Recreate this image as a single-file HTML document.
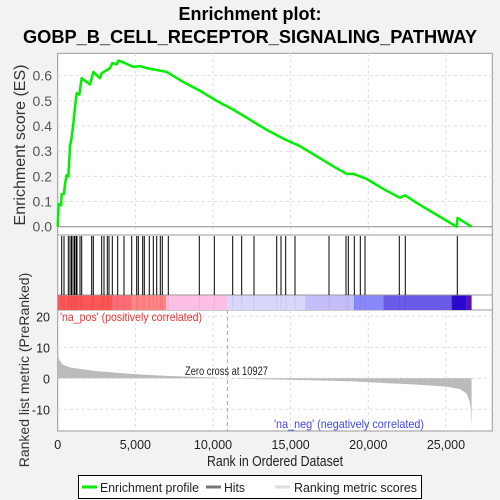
<!DOCTYPE html>
<html><head><meta charset="utf-8"><style>
body{margin:0;background:#f2f2f2;}
svg{display:block;font-family:"Liberation Sans",sans-serif;}
</style></head><body>
<svg id="c" width="500" height="500" viewBox="0 0 500 500">
<rect x="0" y="0" width="500" height="500" fill="#f2f2f2"/>
<text x="250" y="20" text-anchor="middle" font-size="18" font-weight="bold">Enrichment plot:</text>
<text x="250" y="43" text-anchor="middle" font-size="18" font-weight="bold" textLength="454" lengthAdjust="spacingAndGlyphs">GOBP_B_CELL_RECEPTOR_SIGNALING_PATHWAY</text>
<g id="g"></g>
</svg>
<script>
const esRanks=[0,64,215,258,408,472,580,687,794,901,1009,1116,1223,1395,1545,2082,2296,2725,2833,3369,3519,3798,3906,4335,4871,5300,5730,6588,7017,8090,9163,10236,11309,12382,13455,14528,15601,16674,17747,18605,19034,19893,20966,22039,22361,23112,24185,25687,25751,26652];
const esValues=[0,0.09,0.085,0.13,0.13,0.17,0.205,0.2,0.32,0.355,0.41,0.475,0.53,0.525,0.59,0.565,0.615,0.59,0.61,0.63,0.65,0.645,0.66,0.65,0.635,0.638,0.63,0.62,0.615,0.575,0.54,0.5,0.465,0.425,0.385,0.35,0.32,0.28,0.24,0.21,0.21,0.19,0.15,0.115,0.125,0.095,0.055,0.0,0.035,0.0];
const hitRanks=[258,406,683,792,889,985,1082,1178,1243,1436,1545,2189,2292,2833,2981,3194,3303,3516,3863,4269,4765,5087,5190,5473,5576,5898,6156,6375,6607,6735,7122,9118,10084,11268,11848,12640,14102,14379,14681,15280,17469,18564,18712,19099,19485,19788,21996,22382,25731];
const metricRanks=[0,100,300,800,1500,2500,4000,5500,7000,9000,10927,13000,16000,19000,21000,23000,25000,25900,26300,26500,26600,26650];
const metricValues=[8,6,4.5,3.5,3,2.3,1.7,1.2,0.8,0.4,0,-0.3,-0.6,-1,-1.5,-2,-2.7,-3.5,-4.8,-7,-10,-16];
const colorStops=[0,3541,4764,6974,10923,15923,19077,20966,25365,26330,26652];
const colorFills=['#ff5656','#ff6a78','#ff8484','#ffbfe4','#d8d8fa','#c4befa','#8888fa','#6a5ae8','#2a0ad0','#5a10b0'];
const xTicks=[0,5000,10000,15000,20000,25000];
const xTickLabels=['0','5,000','10,000','15,000','20,000','25,000'];
const esTicks=[0,0.1,0.2,0.3,0.4,0.5,0.6];
const esTickLabels=['0.0','0.1','0.2','0.3','0.4','0.5','0.6'];
const mTicks=[-10,0,10,20];
const mTickLabels=['-10','0','10','20'];
const zeroCross=10927;

const L=57.7,R=492.3;
const X=r=>L+r*0.01553;
const YE=v=>226.7-v*251.7;
const YM=v=>378.3-v*3.1;
const g=document.getElementById('g');
const NS='http://www.w3.org/2000/svg';
function mk(t,a,p){const e=document.createElementNS(NS,t);for(const k in a)e.setAttribute(k,a[k]);(p||g).appendChild(e);return e;}

let e;
e=mk('rect',{x:L,y:53.3,width:R-L,height:181.7,fill:'#fff',stroke:'#999'});


e=mk('rect',{x:L,y:235,width:R-L,height:75,fill:'#fff',stroke:'#999'});


e=mk('rect',{x:L,y:310,width:R-L,height:121,fill:'#fff',stroke:'#999'});



xTicks.forEach((t,i)=>{if(i==0)return;
 mk('line',{x1:X(t),x2:X(t),y1:53.3,y2:235,stroke:'#ddd','stroke-dasharray':'3,3'});
 mk('line',{x1:X(t),x2:X(t),y1:310,y2:431,stroke:'#ddd','stroke-dasharray':'3,3'});
});
esTicks.forEach((t,i)=>{
 if(i>0) mk('line',{x1:L,x2:R,y1:YE(t),y2:YE(t),stroke:'#ddd','stroke-dasharray':'3,3'});
 e=mk('text',{x:52,y:YE(t)+5,'text-anchor':'end','font-size':14,fill:'#555'});
 e.textContent=esTickLabels[i];
 
 
});
mk('line',{x1:L,x2:R,y1:YE(0),y2:YE(0),stroke:'#888'});
mTicks.forEach((t,i)=>{
 mk('line',{x1:L,x2:R,y1:YM(t),y2:YM(t),stroke:'#ddd','stroke-dasharray':'3,3'});
 e=mk('text',{x:50,y:YM(t)+5,'text-anchor':'end','font-size':12.5,fill:'#222'});
 e.textContent=mTickLabels[i];
 
 
});

for(let i=0;i<colorFills.length;i++){
 e=mk('rect',{x:X(colorStops[i]),y:295,width:X(colorStops[i+1])-X(colorStops[i]),height:15,fill:colorFills[i]});
 
 
}
mk('line',{x1:L,x2:R,y1:295,y2:295,stroke:'#999'});

hitRanks.forEach(r=>{
 e=mk('line',{x1:X(r),x2:X(r),y1:236,y2:295,stroke:'#000','stroke-width':1});
 
 
 mk('line',{x1:X(r),x2:X(r),y1:295,y2:310,stroke:'#000','stroke-opacity':0.07,'stroke-width':1});
});

let d='M'+X(metricRanks[0])+','+YM(0);
metricRanks.forEach((r,i)=>{d+=' L'+X(r).toFixed(2)+','+YM(metricValues[i]).toFixed(2);});
d+=' L'+X(metricRanks[metricRanks.length-1])+','+YM(0)+' Z';
e=mk('path',{d:d,fill:'#bbb',stroke:'none'});


mk('line',{x1:X(zeroCross),x2:X(zeroCross),y1:310,y2:431,stroke:'#aaa','stroke-dasharray':'4,3'});

let p='';
esRanks.forEach((r,i)=>{p+=(i?' L':'M')+X(r).toFixed(2)+','+YE(esValues[i]).toFixed(2);});
e=mk('path',{d:p,fill:'none',stroke:'#00ee00','stroke-width':2.5,'stroke-linejoin':'round'});



xTicks.forEach((t,i)=>{
 e=mk('text',{x:X(t),y:449,'text-anchor':'middle','font-size':12.5,fill:'#222'});
 e.textContent=xTickLabels[i];
 
 
});
function txt(s,a,name){const t=mk('text',a);t.textContent=s;return t;}
txt("'na_pos' (positively correlated)",{x:60,y:321,'font-size':12,fill:'#e33',textLength:142,lengthAdjust:'spacingAndGlyphs'},'na-pos-label');
txt("'na_neg' (negatively correlated)",{x:274,y:428,'font-size':12,fill:'#44e',textLength:150,lengthAdjust:'spacingAndGlyphs'},'na-neg-label');
txt("Zero cross at 10927",{x:185,y:375,'font-size':11.5,fill:'#222',textLength:83,lengthAdjust:'spacingAndGlyphs'},'zero-cross-label');
txt("Rank in Ordered Dataset",{x:275,y:466,'text-anchor':'middle','font-size':14.5,fill:'#222',textLength:136,lengthAdjust:'spacingAndGlyphs'},'x-axis-title');
txt("Enrichment score (ES)",{x:0,y:0,'text-anchor':'middle','font-size':16,fill:'#333',transform:'translate(25,145) rotate(-90)'},'es-axis-title');
txt("Ranked list metric (PreRanked)",{x:0,y:0,'text-anchor':'middle','font-size':14,fill:'#333',transform:'translate(29,370) rotate(-90)'},'metric-axis-title');

e=mk('rect',{x:78.5,y:475.5,width:343,height:23,fill:'#fff',stroke:'#000'});


mk('line',{x1:82,x2:97,y1:487,y2:487,stroke:'#00ee00','stroke-width':3});
txt('Enrichment profile',{x:100,y:492,'font-size':13,fill:'#222',textLength:99,lengthAdjust:'spacingAndGlyphs'},'legend-entry-enrichment');
mk('line',{x1:206,x2:221,y1:487,y2:487,stroke:'#777','stroke-width':3});
txt('Hits',{x:224,y:492,'font-size':13,fill:'#222',textLength:21,lengthAdjust:'spacingAndGlyphs'},'legend-entry-hits');
mk('line',{x1:275,x2:290,y1:487,y2:487,stroke:'#ddd','stroke-width':3});
txt('Ranking metric scores',{x:294,y:492,'font-size':13,fill:'#222',textLength:123,lengthAdjust:'spacingAndGlyphs'},'legend-entry-metric');
</script>
</body></html>
